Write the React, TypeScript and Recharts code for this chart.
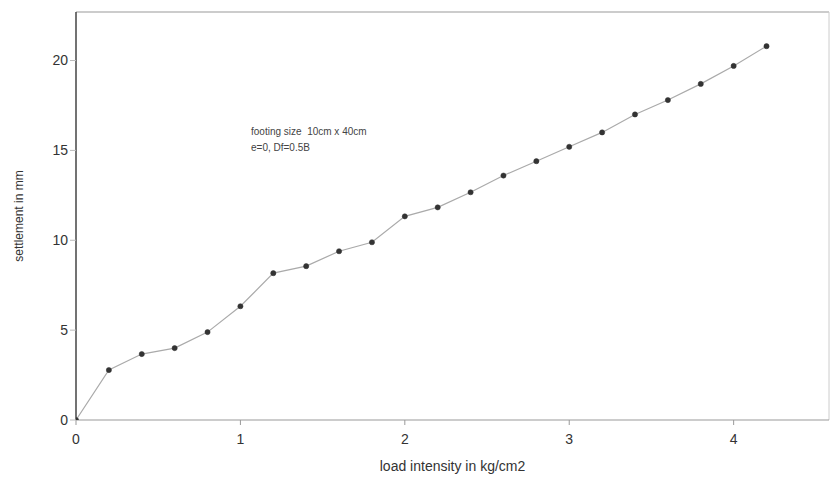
import { LineChart, Line, XAxis, YAxis, Label, ReferenceLine } from "recharts";

// load intensity (kg/cm2) and settlement (mm)
const loads = [0, 0.2, 0.4, 0.6, 0.8, 1.0, 1.2, 1.4, 1.6, 1.8, 2.0, 2.2, 2.4, 2.6, 2.8, 3.0, 3.2, 3.4, 3.6, 3.8, 4.0, 4.2];
const settlements = [0, 2.78, 3.67, 4.0, 4.89, 6.33, 8.17, 8.56, 9.39, 9.89, 11.33, 11.83, 12.67, 13.6, 14.4, 15.2, 16.0, 17.0, 17.8, 18.7, 19.7, 20.8];
const xTicks = [0, 1, 2, 3, 4];
const yTicks = [0, 5, 10, 15, 20];
const xMax = 4.58;
const yMax = 22.7;

const data = loads.map((x, i) => ({ x, y: settlements[i] }));

const font = "Arial, 'Liberation Sans', sans-serif";

export default function App() {
  return (
    <div
      style={{
        position: "absolute",
        left: 0,
        top: 0,
        width: 832,
        height: 477,
        background: "#fff",
        fontFamily: font,
      }}
    >
      <LineChart
        width={832}
        height={477}
        data={data}
        margin={{ top: 12, right: 3, bottom: 0, left: 0 }}
      >
        <XAxis
          dataKey="x"
          type="number"
          domain={[0, xMax]}
          ticks={xTicks}
          allowDataOverflow
          height={57}
          tick={{ fontSize: 14, fill: "#333", fontFamily: font }}
          axisLine={{ stroke: "#999" }}
          tickLine={{ stroke: "#999" }}
          tickSize={5}
          tickMargin={9}
        >
          <Label
            value="load intensity in kg/cm2"
            position="insideBottom"
            offset={6}
            style={{ fontSize: 14, fill: "#333", fontFamily: font }}
          />
        </XAxis>
        <YAxis
          type="number"
          domain={[0, yMax]}
          ticks={yTicks}
          allowDataOverflow
          width={76}
          tick={{ fontSize: 14, fill: "#333", fontFamily: font }}
          axisLine={{ stroke: "#444", strokeWidth: 1.5 }}
          tickLine={{ stroke: "#bbb" }}
          tickSize={6}
        >
          <Label
            value="settlement in mm"
            angle={-90}
            position="insideLeft"
            offset={19}
            style={{ textAnchor: "middle", fontSize: 12, fill: "#333", fontFamily: font }}
          />
        </YAxis>
        <ReferenceLine y={yMax} stroke="#999" strokeWidth={1.2} ifOverflow="visible" />
        <ReferenceLine x={xMax} stroke="#ccc" ifOverflow="visible" />
        <Line
          type="linear"
          dataKey="y"
          stroke="#aaa"
          strokeWidth={1.2}
          dot={{ r: 2.6, fill: "#333", stroke: "#333", strokeWidth: 0.5 }}
          isAnimationActive={false}
        />
      </LineChart>
      <div
        style={{
          position: "absolute",
          left: 251,
          top: 124,
          fontSize: 10,
          lineHeight: "16px",
          color: "#444",
          whiteSpace: "pre",
        }}
      >
        {"footing size  10cm x 40cm\ne=0, Df=0.5B"}
      </div>
    </div>
  );
}
